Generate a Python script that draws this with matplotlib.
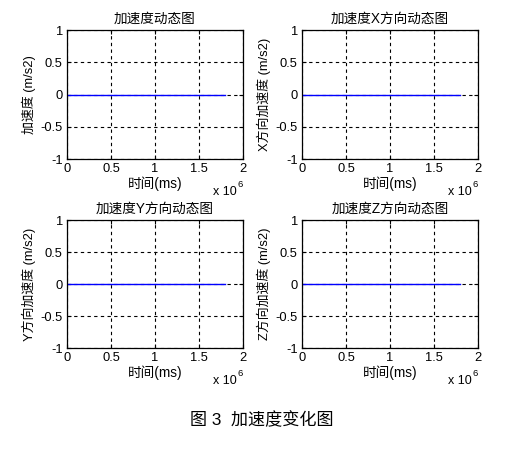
import matplotlib
matplotlib.use("Agg")
import matplotlib.pyplot as plt

plt.rcParams['font.family'] = ['Liberation Sans', 'Noto Sans CJK SC']
plt.rcParams['axes.unicode_minus'] = False

# data
time_ms = [0, 0.3e6, 0.6e6, 0.9e6, 1.2e6, 1.5e6, 1.8e6]
acc_total = [0, 0, 0, 0, 0, 0, 0]
acc_x = [0, 0, 0, 0, 0, 0, 0]
acc_y = [0, 0, 0, 0, 0, 0, 0]
acc_z = [0, 0, 0, 0, 0, 0, 0]

titles = ['加速度动态图', '加速度X方向动态图', '加速度Y方向动态图', '加速度Z方向动态图']
ylabels = ['加速度 (m/s2)', 'X方向加速度 (m/s2)', 'Y方向加速度 (m/s2)', 'Z方向加速度 (m/s2)']
series = [acc_total, acc_x, acc_y, acc_z]
xticks = [0, 0.5e6, 1e6, 1.5e6, 2e6]
xticklabels = ['0', '0.5', '1', '1.5', '2']
yticks = [-1, -0.5, 0, 0.5, 1]
yticklabels = ['-1', '-0.5', '0', '0.5', '1']

W, H = 518, 469
fig = plt.figure(figsize=(W / 100, H / 100), dpi=100, facecolor='white')

# axes boxes in pixels: left, top, right, bottom
boxes = [(67, 30, 243, 159), (302, 30, 478, 159),
         (67, 220, 243, 348), (302, 220, 478, 348)]

for box, y, title, ylabel in zip(boxes, series, titles, ylabels):
    l, t, r, b = box
    ax = fig.add_axes([l / W, 1 - b / H, (r - l) / W, (b - t) / H])
    ax.plot(time_ms, y, color='blue', lw=1.0)
    ax.set_xlim(0, 2e6)
    ax.set_ylim(-1, 1)
    ax.set_xticks(xticks)
    ax.set_xticklabels(xticklabels)
    ax.set_yticks(yticks)
    ax.set_yticklabels(yticklabels)
    ax.grid(True, color='black', linestyle=(0, (3, 3)), lw=0.8)
    ax.tick_params(direction='in', length=3, width=0.8, labelsize=9.3, pad=3,
                   top=True, right=True)
    for s in ax.spines.values():
        s.set_linewidth(0.9)
    ax.set_title(title, fontsize=9.8, pad=5)
    ax.set_xlabel('时间(ms)', fontsize=9.8, labelpad=1)
    ax.set_ylabel(ylabel, fontsize=9.3, labelpad=3)
    ax.text(0.83, -0.258, 'x 10', transform=ax.transAxes, fontsize=9,
            ha='left', va='center')
    ax.text(0.968, -0.2, '6', transform=ax.transAxes, fontsize=6.8,
            ha='left', va='center')

fig.text(262 / W, 1 - 420 / H, '图 3  加速度变化图', fontsize=12.3,
         ha='center', va='center')

fig.savefig('out.png', dpi=100, facecolor='white')
